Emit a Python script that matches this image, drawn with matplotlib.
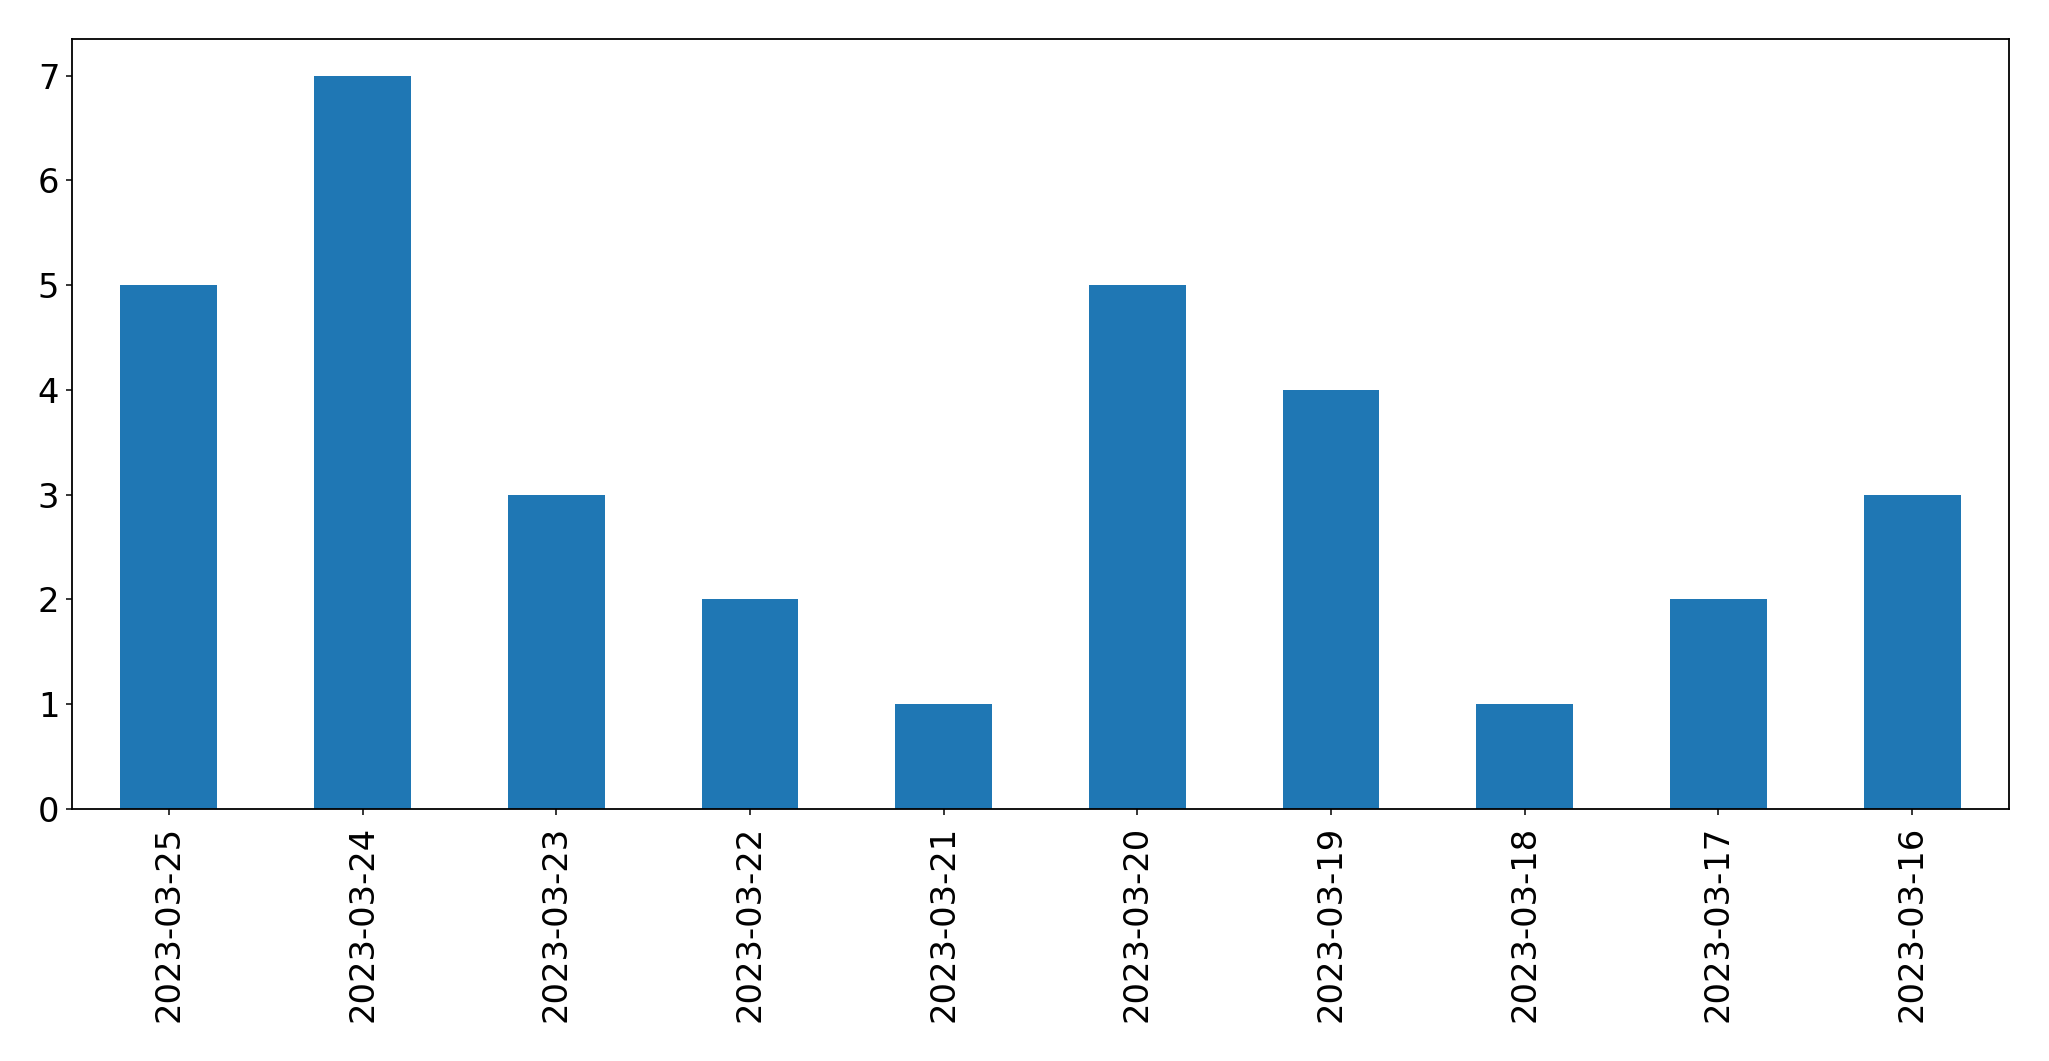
import matplotlib
matplotlib.use("Agg")
import matplotlib.pyplot as plt

dates = ["2023-03-25", "2023-03-24", "2023-03-23", "2023-03-22", "2023-03-21",
         "2023-03-20", "2023-03-19", "2023-03-18", "2023-03-17", "2023-03-16"]
counts = [5, 7, 3, 2, 1, 5, 4, 1, 2, 3]

fig = plt.figure(figsize=(20.49, 10.61), dpi=100)
ax = fig.add_axes([72 / 2049, 1 - 809 / 1061, (2009 - 72) / 2049, (809 - 39) / 1061])

xs = list(range(len(dates)))
ax.bar(xs, counts, width=0.5, color="#1f77b4")
ax.set_xlim(-0.5, len(dates) - 0.5)
ax.set_ylim(0, max(counts) * 1.05)
ax.set_xticks(xs)
ax.set_xticklabels(dates, rotation=90)
ax.tick_params(labelsize=24.3, length=4.1, width=1.1)
ax.tick_params(axis="x", pad=8)
ax.tick_params(axis="y", pad=5)
for s in ax.spines.values():
    s.set_linewidth(1.3)

fig.savefig("out.png", dpi=100)
